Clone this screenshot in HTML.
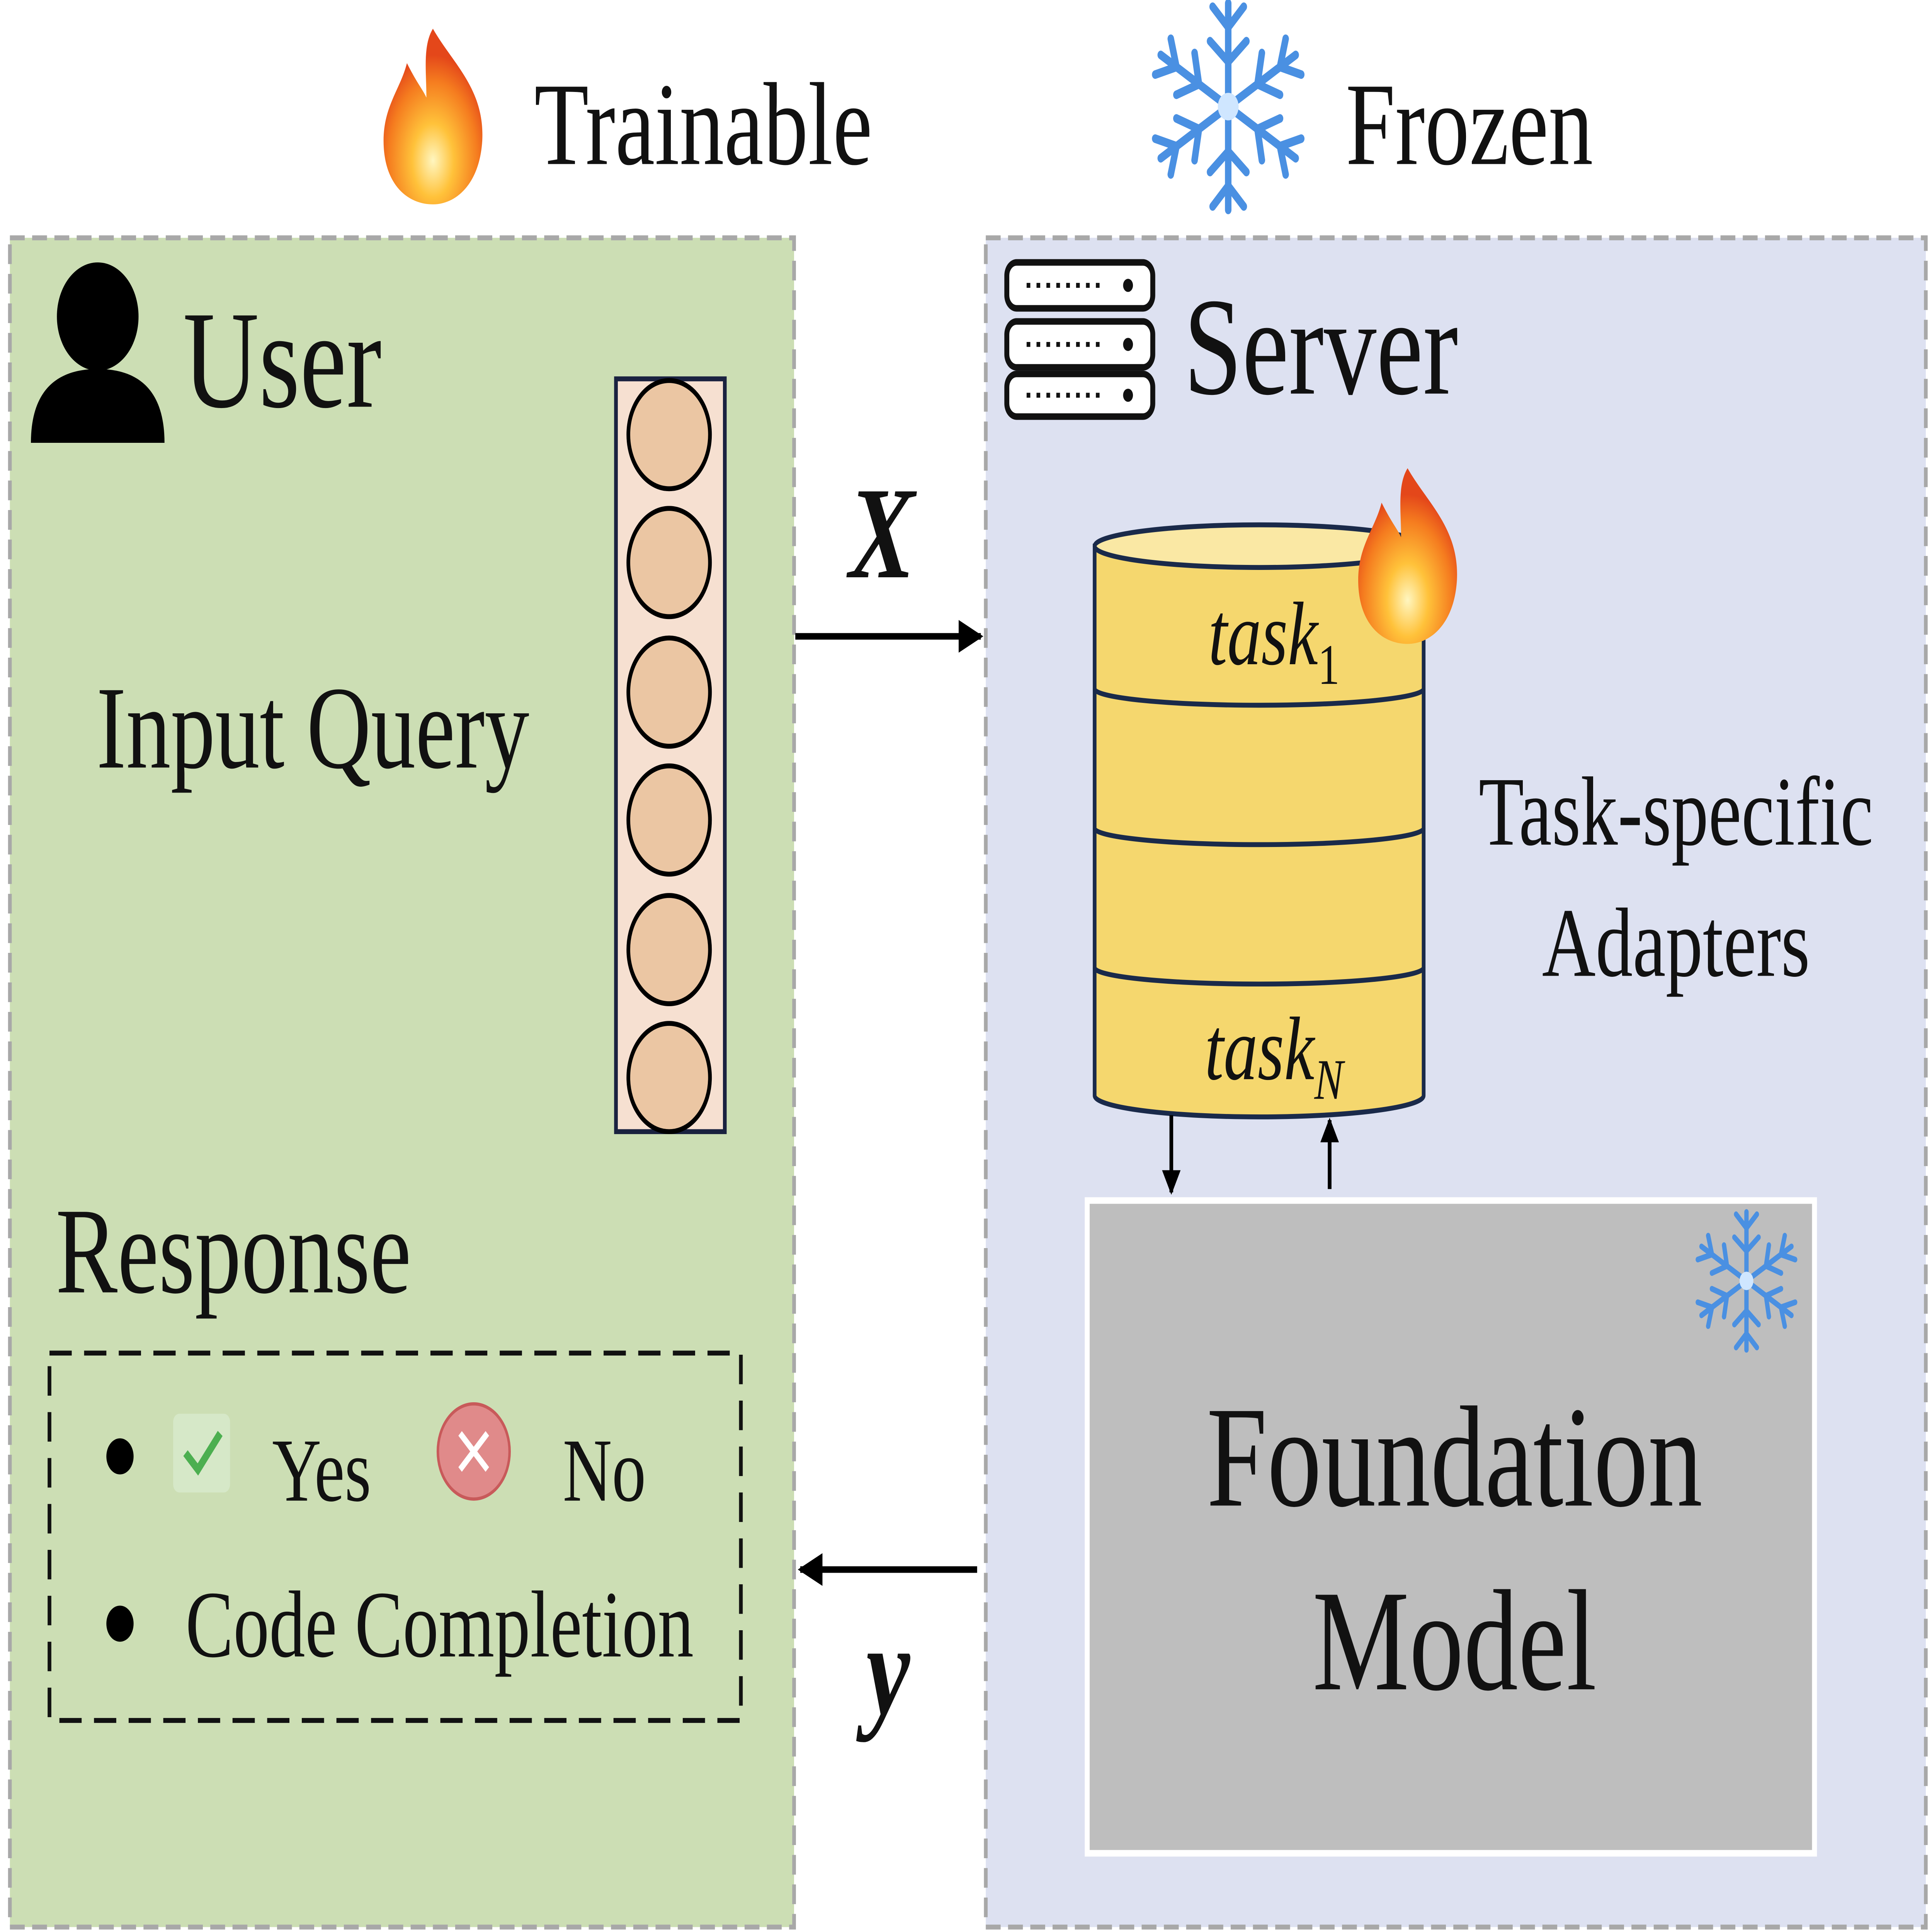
<!DOCTYPE html>
<html><head><meta charset="utf-8"><style>
html,body{margin:0;padding:0;background:#fff;width:100%;height:100%;overflow:hidden;}
svg{display:block;width:100vw;height:100vh;}
text{font-family:"Liberation Serif",serif;fill:#111;}
</style></head><body>
<svg viewBox="0 0 1562 1178" preserveAspectRatio="none" xmlns="http://www.w3.org/2000/svg">
<defs>
<radialGradient id="fl" cx="0.5" cy="0.75" r="0.6">
<stop offset="0" stop-color="#fff6c0"/><stop offset="0.35" stop-color="#ffc23a"/><stop offset="0.75" stop-color="#f57c1f"/><stop offset="1" stop-color="#e4471a"/>
</radialGradient>
<g id="flame">
<path d="M0,-50 C15,-30 40,-15 38,15 C36,40 18,52 0,52 C-20,52 -38,40 -38,15 C-38,-5 -25,-15 -20,-30 C-12,-18 -8,-15 -5,-10 C-5,-25 -8,-40 0,-50 Z" fill="url(#fl)"/>
</g>
<g id="snow" stroke="#4a90e2" stroke-width="5" stroke-linecap="round" fill="none">
<g id="arm"><line x1="0" y1="0" x2="0" y2="-60"/><polyline points="-12,-58 0,-46 12,-58"/><polyline points="-14,-38 0,-26 14,-38"/></g>
<use href="#arm" transform="rotate(60)"/><use href="#arm" transform="rotate(120)"/><use href="#arm" transform="rotate(180)"/><use href="#arm" transform="rotate(240)"/><use href="#arm" transform="rotate(300)"/>
<circle r="8" fill="#cfe6ff" stroke="none"/>
</g>
<marker id="ah" viewBox="0 0 10 10" refX="9" refY="5" markerWidth="5" markerHeight="5" orient="auto"><path d="M0,0 L10,5 L0,10 Z" fill="#000"/></marker>
</defs>

<use href="#flame" transform="translate(350,70) scale(1.05)"/>
<text x="432" y="100" font-size="72">Trainable</text>
<use href="#snow" transform="translate(993,65) scale(1.05)"/>
<text x="1088" y="100" font-size="72">Frozen</text>

<rect x="8" y="145" width="634" height="1030" fill="#ccdeb4" stroke="#a8a8a8" stroke-width="3" stroke-dasharray="12,6"/>
<circle cx="79" cy="193" r="33" fill="#000"/>
<path d="M25,270 C25,235 50,225 79,225 C108,225 133,235 133,270 Z" fill="#000"/>
<text x="148" y="248" font-size="85">User</text>
<rect x="498" y="231" width="88" height="459" fill="#f6e0d1" stroke="#1a2240" stroke-width="3"/>
<g fill="#ebc6a3" stroke="#000" stroke-width="3">
<circle cx="541" cy="265" r="33"/><circle cx="541" cy="343" r="33"/><circle cx="541" cy="422" r="33"/>
<circle cx="541" cy="500" r="33"/><circle cx="541" cy="579" r="33"/><circle cx="541" cy="657" r="33"/>
</g>
<text x="78" y="468" font-size="72">Input Query</text>
<text x="45" y="788" font-size="75">Response</text>
<rect x="40" y="825" width="559" height="224" fill="none" stroke="#111" stroke-width="3" stroke-dasharray="18,10"/>
<circle cx="97" cy="888" r="11" fill="#000"/>
<circle cx="97" cy="990" r="11" fill="#000"/>
<rect x="140" y="862" width="46" height="48" rx="5" fill="#d6e8c8"/>
<polyline points="150,886 160,896 178,874" fill="none" stroke="#4caf50" stroke-width="5"/>
<text x="220" y="915" font-size="55">Yes</text>
<circle cx="383" cy="885" r="29" fill="#e08a8a" stroke="#c85a5a" stroke-width="2"/>
<path d="M372,874 L394,896 M394,874 L372,896" stroke="#fff" stroke-width="4"/>
<text x="455" y="915" font-size="55">No</text>
<text x="150" y="1010" font-size="58">Code Completion</text>

<line x1="643" y1="388" x2="793" y2="388" stroke="#000" stroke-width="4" marker-end="url(#ah)"/>
<text x="713" y="352" font-size="80" font-weight="bold" font-style="italic" text-anchor="middle">X</text>
<line x1="790" y1="957" x2="647" y2="957" stroke="#000" stroke-width="4" marker-end="url(#ah)"/>
<text x="718" y="1045" font-size="80" font-weight="bold" font-style="italic" text-anchor="middle">y</text>

<rect x="797" y="145" width="760" height="1030" fill="#dde1f1" stroke="#a8a8a8" stroke-width="3" stroke-dasharray="12,6"/>
<g fill="#fff" stroke="#111" stroke-width="4">
<rect x="814" y="160" width="118" height="28" rx="8"/><rect x="814" y="196" width="118" height="28" rx="8"/><rect x="814" y="228" width="118" height="26" rx="8"/>
</g>
<g fill="#111"><circle cx="912" cy="174" r="4"/><circle cx="912" cy="210" r="4"/><circle cx="912" cy="241" r="4"/></g>
<g stroke="#111" stroke-width="3"><line x1="830" y1="174" x2="890" y2="174" stroke-dasharray="3,5"/><line x1="830" y1="210" x2="890" y2="210" stroke-dasharray="3,5"/><line x1="830" y1="241" x2="890" y2="241" stroke-dasharray="3,5"/></g>
<text x="957" y="240" font-size="85">Server</text>

<path d="M885,333 L885,668 A133,13 0 0 0 1151,668 L1151,333 Z" fill="#f5d76e" stroke="#1a2a4a" stroke-width="3"/>
<ellipse cx="1018" cy="333" rx="133" ry="13" fill="#fae8a4" stroke="#1a2a4a" stroke-width="3"/>
<path d="M885,420 A133,10 0 0 0 1151,420 M885,505 A133,10 0 0 0 1151,505 M885,590 A133,10 0 0 0 1151,590" fill="none" stroke="#1a2a4a" stroke-width="3"/>
<text x="1030" y="405" font-size="55" font-style="italic" text-anchor="middle">task<tspan font-size="35" dy="12" font-style="normal">1</tspan></text>
<text x="1030" y="658" font-size="55" font-style="italic" text-anchor="middle">task<tspan font-size="35" dy="12">N</tspan></text>
<use href="#flame" transform="translate(1138,338) scale(1.05)"/>
<text x="1355" y="515" font-size="60" text-anchor="middle">Task-specific</text>
<text x="1355" y="595" font-size="60" text-anchor="middle">Adapters</text>
<line x1="947" y1="680" x2="947" y2="727" stroke="#000" stroke-width="3" marker-end="url(#ah)"/>
<line x1="1075" y1="725" x2="1075" y2="683" stroke="#000" stroke-width="3" marker-end="url(#ah)"/>

<rect x="879" y="732" width="588" height="398" fill="#bebebe" stroke="#fff" stroke-width="4"/>
<use href="#snow" transform="translate(1412,781) scale(0.7)"/>
<text x="1176" y="918" font-size="88" text-anchor="middle">Foundation</text>
<text x="1176" y="1030" font-size="88" text-anchor="middle">Model</text>
</svg>
</body></html>
